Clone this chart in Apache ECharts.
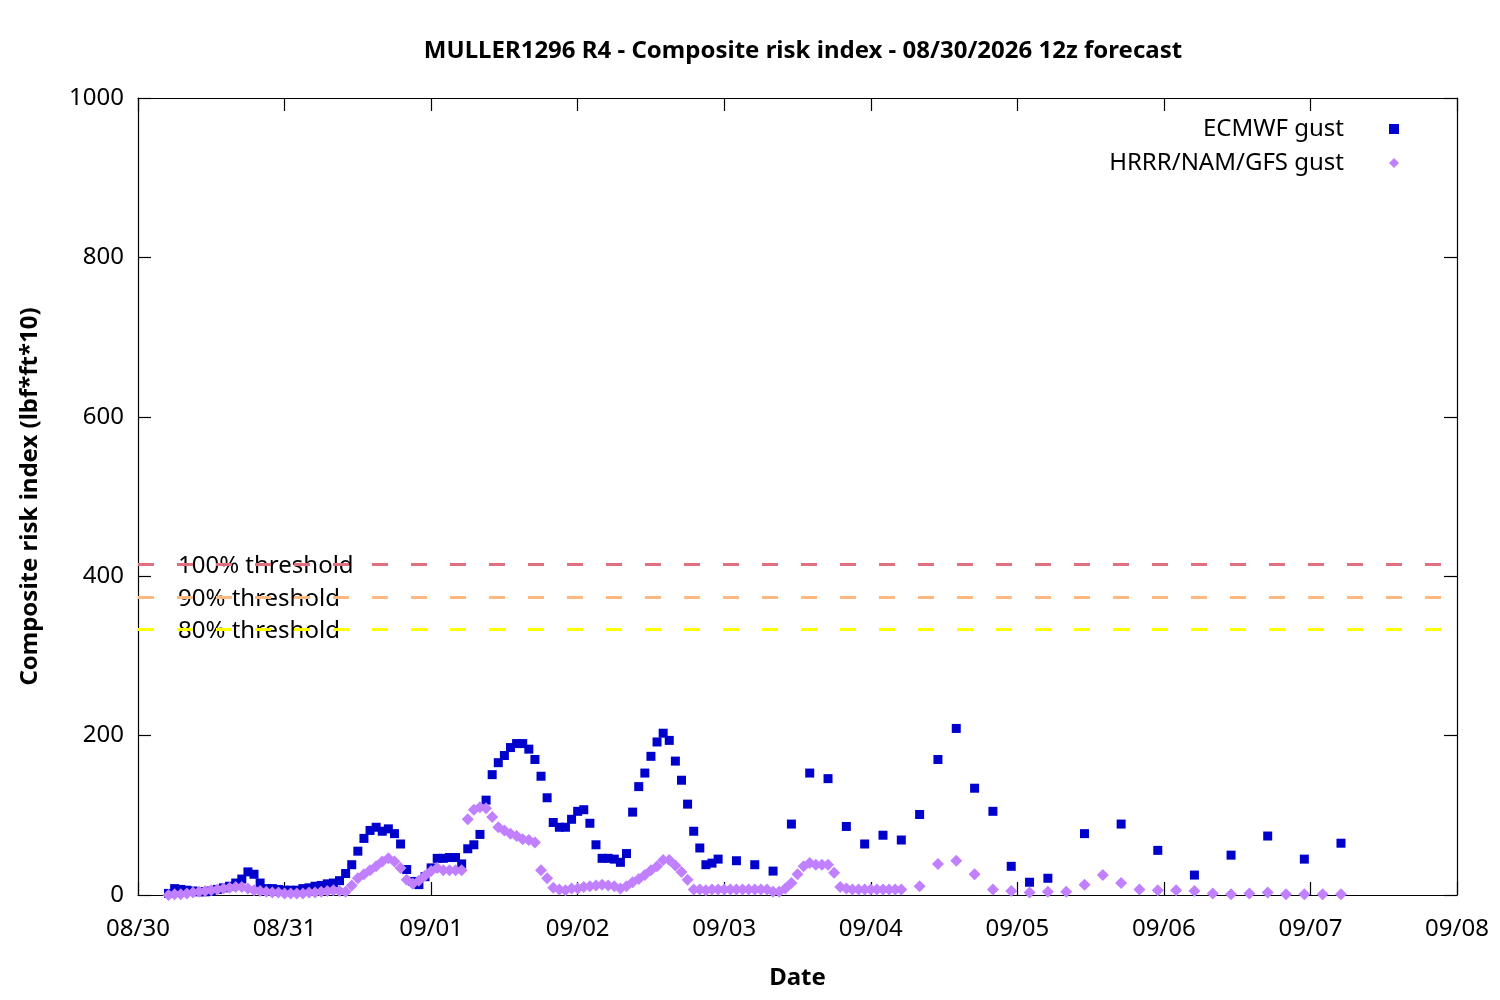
<!DOCTYPE html>
<html>
<head>
<meta charset="utf-8">
<title>MULLER1296 R4 - Composite risk index</title>
<script src="https://cdn.jsdelivr.net/npm/echarts@6/dist/echarts.min.js"></script>
<style>
    html, body { margin: 0; padding: 0; background: #ffffff; }
    #chart { width: 1500px; height: 1000px; }
</style>
</head>
<body>
<div id="chart"></div>
<script>
// times are hours after 08/30 00:00
var dayLabels = ['08/30', '08/31', '09/01', '09/02', '09/03', '09/04', '09/05', '09/06', '09/07', '09/08'];

var ecmwfHours = [
    5, 6, 7, 8, 9, 10, 11, 12, 13, 14,
    15, 16, 17, 18, 19, 20, 21, 22, 23, 24,
    25, 26, 27, 28, 29, 30, 31, 32, 33, 34,
    35, 36, 37, 38, 39, 40, 41, 42, 43, 44,
    45, 46, 47, 48, 49, 50, 51, 52, 53, 54,
    55, 56, 57, 58, 59, 60, 61, 62, 63, 64,
    65, 66, 67, 68, 69, 70, 71, 72, 73, 74,
    75, 76, 77, 78, 79, 80, 81, 82, 83, 84,
    85, 86, 87, 88, 89, 90, 91, 92, 93, 94,
    95, 98, 101, 104, 107, 110, 113, 116, 119, 122,
    125, 128, 131, 134, 137, 140, 143, 146, 149,
    155, 161, 167, 173, 179, 185, 191, 197
];
var ecmwfGust = [
    2, 8, 7, 6, 5, 4, 4, 5, 7, 9,
    11, 15, 20, 29, 26, 15, 8, 8, 7, 6,
    6, 6, 8, 9, 11, 12, 14, 15, 18, 27,
    38, 55, 71, 81, 85, 80, 83, 77, 64, 32,
    17, 13, 23, 34, 46, 46, 47, 47, 39, 58,
    63, 76, 119, 151, 166, 175, 185, 190, 190, 183,
    170, 149, 122, 91, 85, 85, 95, 105, 107, 90,
    63, 46, 46, 45, 41, 52, 104, 136, 153, 174,
    192, 203, 194, 168, 144, 114, 80, 59, 38, 40,
    45, 43, 38, 30, 89, 153, 146, 86, 64, 75,
    69, 101, 170, 209, 134, 105, 36, 16, 21,
    77, 89, 56, 25, 50, 74, 45, 65
];

var modelHours = [
    5, 6, 7, 8, 9, 10, 11, 12, 13, 14,
    15, 16, 17, 18, 19, 20, 21, 22, 23, 24,
    25, 26, 27, 28, 29, 30, 31, 32, 33, 34,
    35, 36, 37, 38, 39, 40, 41, 42, 43, 44,
    45, 46, 47, 48, 49, 50, 51, 52, 53, 54,
    55, 56, 57, 58, 59, 60, 61, 62, 63, 64,
    65, 66, 67, 68, 69, 70, 71, 72, 73, 74,
    75, 76, 77, 78, 79, 80, 81, 82, 83, 84,
    85, 86, 87, 88, 89, 90, 91, 92, 93, 94,
    95, 96, 97, 98, 99, 100, 101, 102, 103, 104,
    105, 106, 107, 108, 109, 110, 111, 112, 113, 114,
    115, 116, 117, 118, 119, 120, 121, 122, 123, 124,
    125, 128, 131, 134, 137, 140, 143, 146, 149, 152,
    155, 158, 161, 164, 167, 170, 173, 176, 179, 182,
    185, 188, 191, 194, 197
];
var modelGust = [
    0, 1, 1, 2, 3, 4, 5, 6, 7, 8,
    9, 10, 10, 8, 6, 5, 4, 3, 3, 2,
    2, 2, 2, 3, 3, 4, 5, 6, 5, 4,
    12, 21, 26, 31, 36, 42, 46, 42, 34, 19,
    14, 18, 24, 30, 34, 31, 31, 31, 31, 95,
    107, 110, 109, 98, 85, 81, 77, 74, 70, 69,
    66, 31, 21, 9, 7, 6, 8, 8, 10, 11,
    12, 13, 12, 11, 8, 11, 16, 20, 25, 31,
    36, 44, 44, 37, 29, 19, 7, 7, 6, 7,
    7, 7, 7, 7, 7, 7, 7, 7, 7, 4,
    4, 8, 15, 26, 36, 40, 38, 38, 38, 28,
    10, 8, 7, 7, 7, 7, 7, 7, 7, 7,
    7, 11, 39, 43, 26, 7, 5, 3, 4, 4,
    13, 25, 15, 7, 6, 6, 5, 2, 1, 2,
    3, 1, 1, 1, 1
];

var thresholdNames = ['100% threshold', '90% threshold', '80% threshold'];
var thresholdValues = [415, 374, 333];
var thresholdColors = ['#e0707f', '#ffb880', '#ffff00'];

var FONT = 'Noto Sans';
var FONT_SIZE = 24;

function zip(xs, ys) {
    return xs.map(function (x, i) { return [x, ys[i]]; });
}

// gnuplot style box: every side gets its own line and inward ticks
function boxAxis(extra) {
    var ax = {
        type: 'value',
        axisLine: { show: true, onZero: false, lineStyle: { color: '#000', width: 1.2 } },
        axisTick: { show: true, inside: true, length: 13, lineStyle: { color: '#000', width: 1.2 } },
        splitLine: { show: false },
        axisLabel: { show: false }
    };
    for (var k in extra) ax[k] = extra[k];
    return ax;
}

var chart = echarts.init(document.getElementById('chart'));

var option = {
    animation: false,
    backgroundColor: '#ffffff',
    textStyle: { fontFamily: FONT },
    title: {
        text: 'MULLER1296 R4 - Composite risk index - 08/30/2026 12z forecast',
        left: 798,
        top: 34,
        textAlign: 'center',
        textStyle: { fontFamily: FONT, fontSize: FONT_SIZE, fontWeight: 'bold', color: '#000' }
    },
    grid: { left: 138, right: 43, top: 98, bottom: 105, containLabel: false },
    legend: {
        orient: 'vertical',
        right: 96,
        top: 111,
        align: 'right',
        itemGap: 8,
        itemWidth: 10,
        itemHeight: 10,
        selectedMode: false,
        textStyle: { fontFamily: FONT, fontSize: FONT_SIZE, color: '#000', lineHeight: 26, padding: [0, 40, 0, 0] },
        data: [
            { name: 'ECMWF gust', icon: 'rect' },
            { name: 'HRRR/NAM/GFS gust', icon: 'diamond' }
        ]
    },
    xAxis: [
        boxAxis({
            position: 'bottom', min: 0, max: 216, interval: 24,
            axisLabel: {
                show: true, fontSize: FONT_SIZE, color: '#000', margin: 22, fontFamily: FONT,
                formatter: function (v) { return dayLabels[Math.round(v / 24)]; }
            },
            name: 'Date',
            nameLocation: 'middle',
            nameGap: 71,
            nameTextStyle: { fontSize: FONT_SIZE, fontWeight: 'bold', color: '#000', fontFamily: FONT }
        }),
        boxAxis({ position: 'top', min: 0, max: 216, interval: 24 })
    ],
    yAxis: [
        boxAxis({
            position: 'left', min: 0, max: 1000, interval: 200,
            axisLabel: {
                show: true, fontSize: FONT_SIZE, color: '#000', margin: 14, fontFamily: FONT,
                formatter: function (v) { return String(v); }
            },
            name: 'Composite risk index (lbf*ft*10)',
            nameLocation: 'middle',
            nameGap: 96,
            nameTextStyle: { fontSize: FONT_SIZE, fontWeight: 'bold', color: '#000', fontFamily: FONT }
        }),
        boxAxis({ position: 'right', min: 0, max: 1000, interval: 200 })
    ],
    series: [{
        name: 'thresholds',
        type: 'line',
        data: [],
        z: 4,
        markLine: {
            silent: true,
            symbol: 'none',
            label: { show: false },
            data: thresholdValues.map(function (v, i) {
                return {
                    yAxis: v,
                    lineStyle: { color: thresholdColors[i], width: 3, type: [16, 23] }
                };
            })
        }
    }, {
        name: 'ECMWF gust',
        type: 'scatter',
        symbol: 'rect',
        symbolSize: 9,
        itemStyle: { color: '#0000cc', opacity: 1 },
        data: zip(ecmwfHours, ecmwfGust),
        z: 2
    }, {
        name: 'HRRR/NAM/GFS gust',
        type: 'scatter',
        symbol: 'diamond',
        symbolSize: 12,
        itemStyle: { color: '#c080ff', opacity: 1 },
        data: zip(modelHours, modelGust),
        z: 3
    }, {
        // keeps the top and right axes alive
        name: 'frame',
        type: 'scatter',
        xAxisIndex: 1,
        yAxisIndex: 1,
        data: [],
        silent: true
    }]
};

chart.setOption(option);

// threshold labels sit on their lines, under the dashes
var labels = thresholdNames.map(function (name, i) {
    var y = chart.convertToPixel({ yAxisIndex: 0 }, thresholdValues[i]);
    return {
        type: 'text',
        x: 178,
        y: y + 2,
        z: 1,
        style: { text: name, fontFamily: FONT, fontSize: FONT_SIZE, fill: '#000', verticalAlign: 'middle' }
    };
});
chart.setOption({ graphic: labels });
</script>
</body>
</html>
